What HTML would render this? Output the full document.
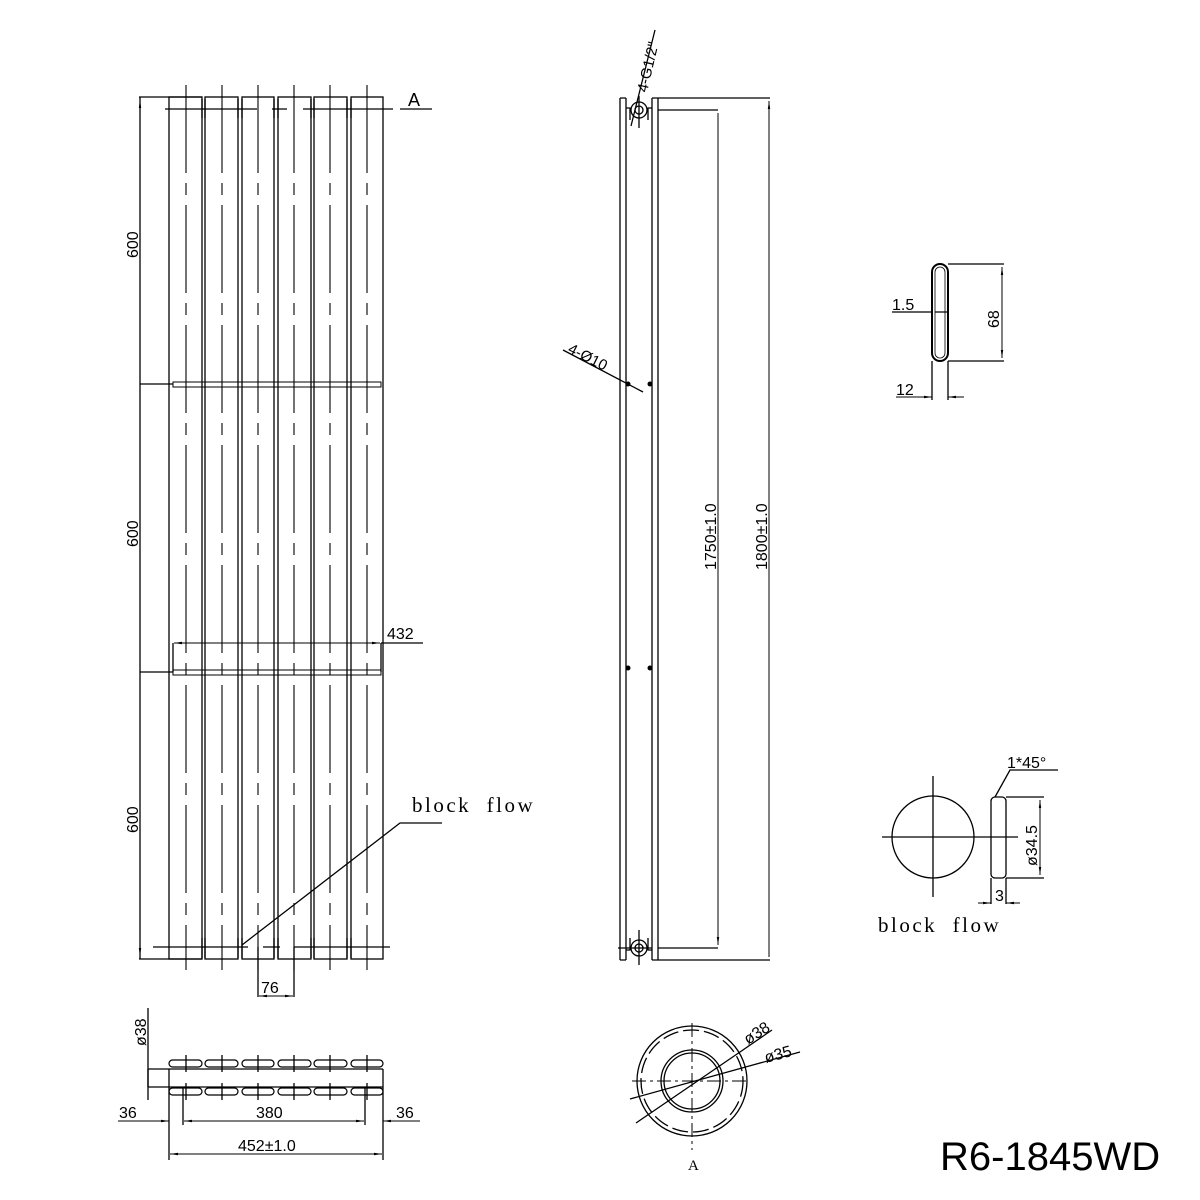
<!DOCTYPE html>
<html><head><meta charset="utf-8"><style>
html,body{margin:0;padding:0;background:#fff;}
svg{display:block;}
text{font-family:"Liberation Sans",sans-serif;fill:#000;}
.s{font-family:"Liberation Serif",serif;}
</style></head><body>
<svg width="1200" height="1200" viewBox="0 0 1200 1200" xmlns="http://www.w3.org/2000/svg">
<defs>
<marker id="ar" viewBox="0 0 10 10" refX="10" refY="5" markerWidth="8" markerHeight="8" orient="auto-start-reverse"><path d="M0,3.5 L10,5 L0,6.5z" fill="#000"/></marker>
</defs>
<g stroke="#000" stroke-width="1.3" fill="none">
<rect x="169" y="97" width="33" height="862"/>
<rect x="205" y="97" width="33" height="862"/>
<rect x="242" y="97" width="32" height="862"/>
<rect x="278" y="97" width="33" height="862"/>
<rect x="314" y="97" width="33" height="862"/>
<rect x="351" y="97" width="32" height="862"/>
<path d="M202,99v19M205,99v19M238,99v19M242,99v19M274,99v19M278,99v19M311,99v19M314,99v19M347,99v19M351,99v19"/>
<path d="M202,938v20M205,938v20M238,938v20M242,938v20M274,938v20M278,938v20M311,938v20M314,938v20M347,938v20M351,938v20"/>
<g stroke-width="1.1" stroke-dasharray="88,10,12,10">
<path d="M186,85V970M222,85V970M258,85V970M294,85V970M330,85V970M367,85V970"/>
</g>
<path d="M165,109H257M272,109H287M303,109H393"/>
<path d="M400,109H432" />
<path d="M153,947H248M263,947H280M294,947H390"/>
<path d="M139,97H202M139,959H202"/>
<path d="M140,97V959" />
<path d="M140,100V381M140,387V669M140,675V956" marker-start="url(#ar)" marker-end="url(#ar)" stroke-width="1"/>
<path d="M140,384H173M140,672H173"/>
<rect x="173" y="382" width="208" height="5" stroke-width="1"/>
<rect x="173" y="670" width="208" height="5" stroke-width="1"/>
<path d="M173,643V672M381,643V672"/>
<path d="M174,643H380" marker-start="url(#ar)" marker-end="url(#ar)" stroke-width="1"/>
<path d="M381,643H423"/>
<path d="M258,947V997M294,947V997"/>
<path d="M259,996H293" marker-start="url(#ar)" marker-end="url(#ar)" stroke-width="1"/>
<path d="M442,823H400L242,945"/>
<!-- side view -->
<path d="M620,98V960M626,98V960M652,98V960M658,98V960"/>
<path d="M620,98H626M652,98H658M620,960H626M652,960H658"/>
<path d="M626,108H630V120M652,108H648V120M626,950H630V938M652,950H648V938"/>
<circle cx="639" cy="110" r="8"/><circle cx="639" cy="110" r="4"/>
<circle cx="639" cy="948" r="8"/><circle cx="639" cy="948" r="4"/>
<path d="M639,96V128M627,948H652M639,930V965M629,948H618"/>
<path d="M631,126L655,30"/>
<path d="M658,98H770M658,110H718M658,960H770M658,948H718"/>
<path d="M769,101V957M718,113V945" marker-start="url(#ar)" marker-end="url(#ar)" stroke-width="1"/>
<path d="M563,350L643,392"/>
<!-- cross section 68 -->
<rect x="932" y="264" width="16" height="97" rx="8" stroke-width="2"/>
<rect x="935" y="267" width="10" height="91" rx="5" stroke-width="0.8"/>
<path d="M948,264H1004M948,361H1004"/>
<path d="M1002,267V358" marker-start="url(#ar)" marker-end="url(#ar)" stroke-width="1"/>
<path d="M892,312H932M935,312H947"/>
<path d="M932,361V400M948,361V400"/>
<path d="M896,397H932" marker-end="url(#ar)" stroke-width="1"/>
<path d="M964,397H948" marker-end="url(#ar)" stroke-width="1"/>
<!-- block flow detail -->
<circle cx="933" cy="837" r="41"/>
<path d="M933,776V897M882,837H1018"/>
<rect x="991" y="797" width="15" height="81" rx="4"/>
<path d="M1006,797H1044M1006,878H1044"/>
<path d="M1040,800V875" marker-start="url(#ar)" marker-end="url(#ar)" stroke-width="1"/>
<path d="M991,878V904M1006,878V904"/>
<path d="M978,903H991" marker-end="url(#ar)" stroke-width="1"/>
<path d="M1020,903H1006" marker-end="url(#ar)" stroke-width="1"/>
<path d="M995,797L1010,770H1058"/>
<!-- ring A -->
<circle cx="692" cy="1081" r="55"/>
<circle cx="692" cy="1081" r="51" stroke-dasharray="16,5"/>
<circle cx="692" cy="1081" r="31"/>
<circle cx="692" cy="1081" r="28"/>
<path d="M692,1023V1150M632,1081H750" stroke-dasharray="14,4,3,4" stroke-width="1"/>
<path d="M636,1123L740,1052L772,1030" />
<path d="M630,1099L800,1052"/>
<!-- plan view -->
<g stroke-width="1.2">
<rect x="169" y="1060" width="33" height="7" rx="3.5"/><rect x="205" y="1060" width="33" height="7" rx="3.5"/><rect x="242" y="1060" width="32" height="7" rx="3.5"/><rect x="278" y="1060" width="33" height="7" rx="3.5"/><rect x="314" y="1060" width="33" height="7" rx="3.5"/><rect x="351" y="1060" width="32" height="7" rx="3.5"/>
<rect x="169" y="1088" width="33" height="7" rx="3.5"/><rect x="205" y="1088" width="33" height="7" rx="3.5"/><rect x="242" y="1088" width="32" height="7" rx="3.5"/><rect x="278" y="1088" width="33" height="7" rx="3.5"/><rect x="314" y="1088" width="33" height="7" rx="3.5"/><rect x="351" y="1088" width="32" height="7" rx="3.5"/>
</g>
<path d="M186,1055V1072M222,1055V1072M258,1055V1072M294,1055V1072M330,1055V1072M367,1055V1072M186,1083V1100M222,1083V1100M258,1083V1100M294,1083V1100M330,1083V1100M367,1083V1100"/>
<path d="M148,1069H383M148,1087H383M148,1069V1087"/>
<path d="M148,1008V1100" />
<path d="M169,1069V1160M383,1069V1160M183,1087V1125M365,1087V1125"/>
<path d="M118,1121H169" marker-end="url(#ar)" stroke-width="1"/>
<path d="M184,1121H364" marker-start="url(#ar)" marker-end="url(#ar)" stroke-width="1"/>
<path d="M420,1121H383" marker-end="url(#ar)" stroke-width="1"/>
<path d="M170,1154H382" marker-start="url(#ar)" marker-end="url(#ar)" stroke-width="1"/>
</g>
<g fill="#000">
<circle cx="628" cy="384" r="2.5"/><circle cx="650" cy="384" r="2.5"/>
<circle cx="628" cy="668" r="2.5"/><circle cx="650" cy="668" r="2.5"/>
</g>
<text x="408" y="106" font-size="18">A</text>
<text font-size="16" transform="translate(138,258) rotate(-90)">600</text>
<text font-size="16" transform="translate(138,547) rotate(-90)">600</text>
<text font-size="16" transform="translate(138,833) rotate(-90)">600</text>
<text x="387" y="639" font-size="16">432</text>
<text x="261" y="993" font-size="16">76</text>
<text class="s" x="412" y="812" font-size="21" letter-spacing="2.5" xml:space="preserve">block  flow</text>
<text font-size="15" transform="translate(647,93) rotate(-77)">4-G1/2"</text>
<text font-size="15" transform="translate(567,352) rotate(27)">4-Ø10</text>
<text font-size="16" transform="translate(716,570) rotate(-90)">1750±1.0</text>
<text font-size="16" transform="translate(767,570) rotate(-90)">1800±1.0</text>
<text x="892" y="310" font-size="16">1.5</text>
<text x="896" y="395" font-size="16">12</text>
<text font-size="16" transform="translate(999,328) rotate(-90)">68</text>
<text x="1007" y="768" font-size="16">1*45°</text>
<text font-size="16" transform="translate(1037,866) rotate(-90)">ø34.5</text>
<text x="995" y="901" font-size="16">3</text>
<text class="s" x="878" y="932" font-size="21" letter-spacing="2.5" xml:space="preserve">block  flow</text>
<text font-size="16" transform="translate(748,1045) rotate(-33)">ø38</text>
<text font-size="16" transform="translate(766,1063) rotate(-15)">ø35</text>
<text x="688" y="1170" font-size="15" class="s">A</text>
<text font-size="16" transform="translate(146,1046) rotate(-90)">ø38</text>
<text x="119" y="1118" font-size="16">36</text>
<text x="256" y="1118" font-size="16">380</text>
<text x="396" y="1118" font-size="16">36</text>
<text x="238" y="1151" font-size="16">452±1.0</text>
<text x="940" y="1170" font-size="40">R6-1845WD</text>
</svg>
</body></html>
